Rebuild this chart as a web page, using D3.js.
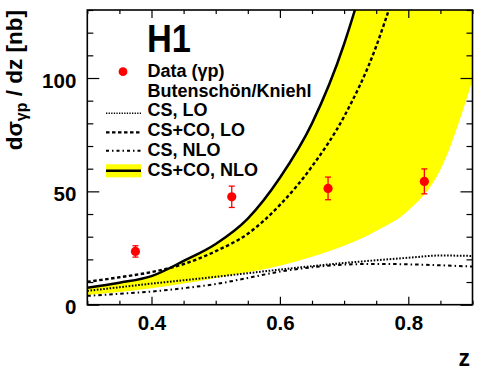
<!DOCTYPE html>
<html>
<head>
<meta charset="utf-8">
<script src="https://cdn.jsdelivr.net/npm/d3@7"></script>
<style>
  body { margin: 0; background: #fff; }
  svg { display: block; }
  text { font-family: "Liberation Sans", Arial, Helvetica, sans-serif; font-weight: bold; }
</style>
</head>
<body>
<svg id="chart" width="485" height="371"></svg>
<script>
// ---------------- data ----------------
const dataZ    = [0.375, 0.525, 0.675, 0.825];
const dataVal  = [23.5, 47.6, 51.3, 54.4];
const dataErr  = [2.5, 4.7, 5.0, 5.5];

const theoryZ  = [0.30, 0.35, 0.40, 0.45, 0.50, 0.55, 0.60, 0.65, 0.70, 0.75, 0.80, 0.85, 0.90];
// CS+CO NLO central (solid) = upper edge of band
const csCoNlo  = [7.5, 9.7, 12.6, 19.3, 26.8, 38, 56, 80, 115, 165, 235, 335, 480];
// CS+CO NLO band lower edge
const bandLow  = [4.3, 5.6, 7.3, 9.3, 11.8, 14.3, 17.2, 21.2, 26.0, 32.5, 41.5, 59.5, 99];
// CS+CO LO (dashed)
const csCoLo   = [10.1, 12.1, 14.4, 17.9, 23.6, 31.3, 44, 61, 83, 114, 160, 225, 320];
// CS LO (dotted)
const csLo     = [6.1, 7.7, 9.3, 10.8, 12.3, 13.9, 15.5, 17.0, 18.4, 19.6, 20.7, 21.7, 21.5];
// CS NLO (dash-dot)
const csNlo    = [3.9, 4.8, 5.8, 7.3, 9.1, 11.8, 14.6, 16.5, 17.7, 18.0, 17.8, 17.4, 16.8];

const xMajor = [0.4, 0.6, 0.8];
const xMinor = [0.3, 0.35, 0.45, 0.5, 0.55, 0.65, 0.7, 0.75, 0.85, 0.9];
const yMajor = [0, 50, 100];
const yMinor = [10, 20, 30, 40, 60, 70, 80, 90, 110, 120, 130];

const legendItems = ["CS, LO", "CS+CO, LO", "CS, NLO", "CS+CO, NLO"];

// ---------------- layout ----------------
const svg = d3.select("#chart");
const L = 87.3, R = 472.5, T = 10, B = 304.7;

const x = d3.scaleLinear().domain([0.3, 0.9]).range([L, R]);
const y = d3.scaleLinear().domain([0, 130]).range([B, T]);

svg.append("defs").append("clipPath").attr("id", "plotclip")
  .append("rect").attr("x", L).attr("y", T).attr("width", R - L).attr("height", B - T);

const plot = svg.append("g").attr("clip-path", "url(#plotclip)");

const idx = theoryZ.map((d, i) => i);
const curve = d3.curveMonotoneX;

// band
plot.append("path")
  .datum(idx)
  .attr("fill", "#ffff00")
  .attr("d", d3.area().curve(curve)
    .x(i => x(theoryZ[i])).y0(i => y(bandLow[i])).y1(i => y(csCoNlo[i])));

function line(arr) {
  return d3.line().curve(curve).x(i => x(theoryZ[i])).y(i => y(arr[i]))(idx);
}

plot.append("path").attr("d", line(csLo)).attr("fill", "none")
  .attr("stroke", "#000").attr("stroke-width", 2).attr("stroke-dasharray", "1.6,1.6");
plot.append("path").attr("d", line(csNlo)).attr("fill", "none")
  .attr("stroke", "#000").attr("stroke-width", 2).attr("stroke-dasharray", "3.5,3,1.5,3");
plot.append("path").attr("d", line(csCoLo)).attr("fill", "none")
  .attr("stroke", "#000").attr("stroke-width", 2.4).attr("stroke-dasharray", "3.5,2.5");
plot.append("path").attr("d", line(csCoNlo)).attr("fill", "none")
  .attr("stroke", "#000").attr("stroke-width", 2.5);

// data points
const pts = svg.append("g");
dataZ.forEach((z, i) => {
  const cx = x(z), v = dataVal[i], e = dataErr[i];
  pts.append("line").attr("x1", cx).attr("x2", cx)
    .attr("y1", y(v - e)).attr("y2", y(v + e))
    .attr("stroke", "#ff0000").attr("stroke-width", 1.3);
  [v - e, v + e].forEach(w => {
    pts.append("line").attr("x1", cx - 3).attr("x2", cx + 3)
      .attr("y1", y(w)).attr("y2", y(w))
      .attr("stroke", "#ff0000").attr("stroke-width", 1.3);
  });
  pts.append("circle").attr("cx", cx).attr("cy", y(v)).attr("r", 4.6).attr("fill", "#ff0000");
});

// ---------------- axes ----------------
function styleAxis(g) {
  g.select(".domain").remove();
  g.attr("font-size", null).attr("font-family", null);
  g.selectAll("line").attr("stroke", "#000").attr("stroke-width", 1.2);
  g.selectAll("text").attr("fill", "#000").style("font-size", "20.5px")
    .style("font-family", '"Liberation Sans", Arial, sans-serif').style("font-weight", "bold");
}

const fmtX = d3.format(".1f");
svg.append("g").attr("transform", `translate(0,${B})`)
  .call(d3.axisBottom(x).tickValues(xMajor).tickSize(-8).tickSizeOuter(0).tickPadding(11).tickFormat(fmtX))
  .call(styleAxis);
svg.append("g").attr("transform", `translate(0,${B})`)
  .call(d3.axisBottom(x).tickValues(xMinor).tickSize(-4).tickSizeOuter(0).tickFormat(""))
  .call(styleAxis);
svg.append("g").attr("transform", `translate(0,${T})`)
  .call(d3.axisTop(x).tickValues(xMajor).tickSize(-8).tickSizeOuter(0).tickFormat(""))
  .call(styleAxis);
svg.append("g").attr("transform", `translate(0,${T})`)
  .call(d3.axisTop(x).tickValues(xMinor).tickSize(-4).tickSizeOuter(0).tickFormat(""))
  .call(styleAxis);

const yl = svg.append("g").attr("transform", `translate(${L},0)`)
  .call(d3.axisLeft(y).tickValues(yMajor).tickSize(-12).tickSizeOuter(0).tickPadding(11).tickFormat(d3.format("d")))
  .call(styleAxis);
yl.selectAll("text").attr("dy", "0.44em");
svg.append("g").attr("transform", `translate(${L},0)`)
  .call(d3.axisLeft(y).tickValues(yMinor).tickSize(-6).tickSizeOuter(0).tickFormat(""))
  .call(styleAxis);
svg.append("g").attr("transform", `translate(${R},0)`)
  .call(d3.axisRight(y).tickValues(yMajor).tickSize(-12).tickSizeOuter(0).tickFormat(""))
  .call(styleAxis);
svg.append("g").attr("transform", `translate(${R},0)`)
  .call(d3.axisRight(y).tickValues(yMinor).tickSize(-6).tickSizeOuter(0).tickFormat(""))
  .call(styleAxis);

// frame
svg.append("rect").attr("x", L).attr("y", T).attr("width", R - L).attr("height", B - T)
  .attr("fill", "none").attr("stroke", "#000").attr("stroke-width", 1.6);

// axis titles
svg.append("text").attr("x", 470).attr("y", 366).attr("text-anchor", "end")
  .style("font-size", "23px").text("z");

const yt = svg.append("text")
  .attr("transform", "translate(21.5,10) rotate(-90)")
  .attr("text-anchor", "end")
  .style("font-size", "22.5px");
yt.append("tspan").text("dσ");
yt.append("tspan").attr("dy", 5).style("font-size", "16px").text("γp");
yt.append("tspan").attr("dy", -5).text(" / dz [nb]");

// H1 label
svg.append("text").attr("x", 147).attr("y", 51.7)
  .attr("textLength", 44).attr("lengthAdjust", "spacingAndGlyphs")
  .style("font-size", "38px").text("H1");

// ---------------- legend ----------------
const leg = svg.append("g");
const lx = 147.5;
const fs = "18px";
leg.append("circle").attr("cx", 123).attr("cy", 71.7).attr("r", 4.4).attr("fill", "#ff0000");
leg.append("text").attr("x", lx).attr("y", 77).style("font-size", fs).text("Data (γp)");
leg.append("text").attr("x", lx).attr("y", 96.7).style("font-size", fs).text("Butenschön/Kniehl");

const rowY = [116.4, 136, 155.8, 175.5];
const symY = [113.3, 132.3, 150.7, 170.7];
const x0 = 106, x1 = 141;

leg.append("rect").attr("x", x0).attr("y", 164.3).attr("width", x1 - x0).attr("height", 13).attr("fill", "#ffff00");
const styles = [
  { w: 1.5, d: "1.3,1.3" },
  { w: 2.2, d: "3.5,2.5" },
  { w: 2.0, d: "3,3,1.5,3" },
  { w: 2.5, d: null }
];
styles.forEach((s, i) => {
  const l = leg.append("line").attr("x1", x0).attr("x2", x1).attr("y1", symY[i]).attr("y2", symY[i])
    .attr("stroke", "#000").attr("stroke-width", s.w);
  if (s.d) l.attr("stroke-dasharray", s.d);
});
legendItems.forEach((t, i) => {
  leg.append("text").attr("x", lx).attr("y", rowY[i]).style("font-size", fs).text(t);
});
</script>
</body>
</html>
